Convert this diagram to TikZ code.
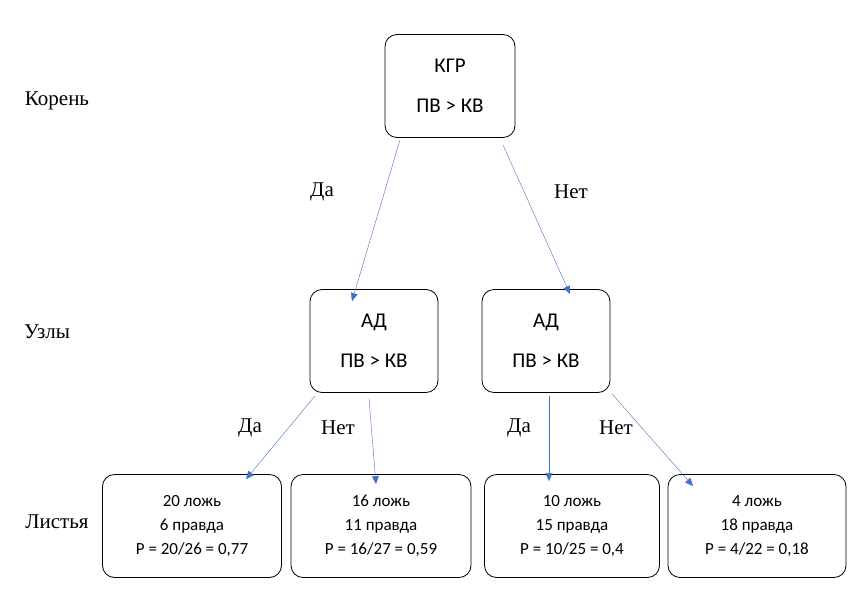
\documentclass[tikz,border=0pt]{standalone}
\usepackage{fontspec}
\setmainfont{Liberation Serif}
\newfontfamily\boxfont{Carlito}
\usetikzlibrary{arrows.meta}
\definecolor{arrblue}{RGB}{68,114,196}
\begin{document}
\begin{tikzpicture}[x=1pt,y=-1pt]
    \tikzstyle{every node}=[inner sep=0pt]
    \tikzstyle{split}=[draw,thick,rounded corners=12pt,minimum width=130pt,minimum height=103pt,align=center,font=\boxfont\fontsize{21}{40}\selectfont]
    \tikzstyle{leaf}=[draw,thick,rounded corners=12pt,minimum height=103pt,align=center,font=\boxfont\fontsize{17}{24}\selectfont]
    \tikzstyle{arr}=[arrblue,-{Triangle[length=8pt,width=7pt]}]
    \tikzstyle{lbl}=[font=\fontsize{21}{24}\selectfont]
    \useasboundingbox (0,0) rectangle (859,589);
    % levels
    \node[lbl] (koren) at (57,101) {Корень};
    \node[lbl] (uzly) at (47,332) {Узлы};
    \node[lbl] (listya) at (57,522) {Листья};
    % splits
    \node[split] (root) at (450,86) {КГР\\ПВ > КВ};
    \node[split,minimum width=128pt] (ad1) at (374,341) {АД\\ПВ > КВ};
    \node[split,minimum width=128pt] (ad2) at (546,341) {АД\\ПВ > КВ};
    % leaves
    \node[leaf,minimum width=179pt] (l1) at (192,526) {20 ложь\\6 правда\\P = 20/26 = 0,77};
    \node[leaf,minimum width=180pt] (l2) at (381,526) {16 ложь\\11 правда\\P = 16/27 = 0,59};
    \node[leaf,minimum width=175pt] (l3) at (572,526) {10 ложь\\15 правда\\P = 10/25 = 0,4};
    \node[leaf,minimum width=178pt] (l4) at (757,526) {4 ложь\\18 правда\\P = 4/22 = 0,18};
    % edges
    \draw[arr] ([xshift=-50pt,yshift=-2pt]root.south) -- ([xshift=-22pt,yshift=-12pt]ad1.north);
    \draw[arr] ([xshift=53pt,yshift=-7pt]root.south) -- ([xshift=24pt,yshift=-5pt]ad2.north);
    \draw[arr] ([xshift=-59pt,yshift=-3pt]ad1.south) -- ([xshift=54pt,yshift=-5pt]l1.north);
    \draw[arr] ([xshift=-5pt,yshift=-6pt]ad1.south) -- ([yshift=-10pt]l2.north -| 376,0);
    \draw[arr] ([xshift=3pt,yshift=-3pt]ad2.south) -- ([yshift=-7pt]l3.north -| 549,0);
    \draw[arr] ([xshift=66pt,yshift=-1pt]ad2.south) -- ([xshift=-64pt,yshift=-12pt]l4.north);
    % answers
    \node[lbl] (da0) at (322,192) {Да};
    \node[lbl] (net0) at (571,192) {Нет};
    \node[lbl] (da1) at (250,428) {Да};
    \node[lbl] (net1) at (338,428) {Нет};
    \node[lbl] (da2) at (519,428) {Да};
    \node[lbl] (net2) at (616,428) {Нет};
\end{tikzpicture}
\end{document}
